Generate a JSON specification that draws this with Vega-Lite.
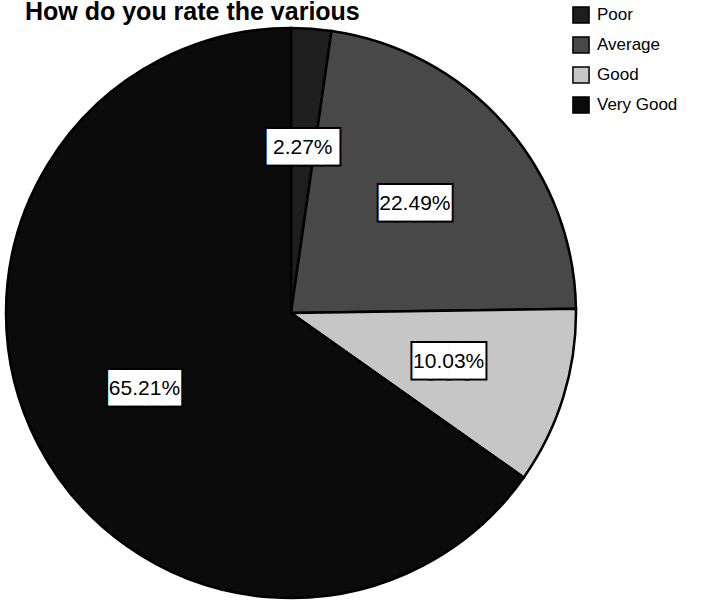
{
  "$schema": "https://vega.github.io/schema/vega-lite/v6.json",
  "width": 582,
  "height": 570,
  "autosize": {"type": "pad"},
  "padding": 0,
  "background": "white",
  "title": {
    "text": "How do you rate the various",
    "anchor": "start",
    "frame": "group",
    "font": "Liberation Sans",
    "fontSize": 25,
    "fontWeight": "bold",
    "color": "black",
    "offset": -19,
    "dx": 25
  },
  "data": {
    "values": [
      {"category": "Poor", "value": 2.27, "label": "2.27%", "order": 1},
      {"category": "Average", "value": 22.49, "label": "22.49%", "order": 2},
      {"category": "Good", "value": 10.03, "label": "10.03%", "order": 3},
      {"category": "Very Good", "value": 65.21, "label": "65.21%", "order": 4}
    ]
  },
  "encoding": {
    "theta": {"field": "value", "type": "quantitative", "stack": true},
    "order": {"field": "order", "type": "quantitative"}
  },
  "layer": [
    {
      "mark": {"type": "arc", "outerRadius": 285, "stroke": "black", "strokeWidth": 2.5},
      "encoding": {
        "color": {
          "field": "category",
          "type": "nominal",
          "scale": {
            "domain": ["Poor", "Average", "Good", "Very Good"],
            "range": ["#1e1e1e", "#484848", "#c6c6c6", "#0b0b0b"]
          },
          "legend": {
            "title": null,
            "orient": "none",
            "legendX": 572,
            "legendY": -22,
            "padding": 0,
            "symbolType": "square",
            "symbolSize": 260,
            "symbolStrokeColor": "black",
            "symbolStrokeWidth": 1.5,
            "labelFont": "Liberation Sans",
            "labelFontSize": 17,
            "labelColor": "black",
            "labelOffset": 7,
            "rowPadding": 6
          }
        }
      }
    },
    {
      "mark": {"type": "text", "radius": 165, "text": "████", "font": "DejaVu Sans Mono", "fontSize": 30, "fill": "black", "stroke": "black", "strokeWidth": 4, "baseline": "middle", "align": "center"},
      "encoding": {"detail": {"field": "category", "type": "nominal"}}
    },
    {
      "mark": {"type": "text", "radius": 165, "text": "████", "font": "DejaVu Sans Mono", "fontSize": 30, "fill": "white", "baseline": "middle", "align": "center"},
      "encoding": {"detail": {"field": "category", "type": "nominal"}}
    },
    {
      "mark": {"type": "text", "radius": 165, "font": "Liberation Sans", "fontSize": 21, "fill": "black", "baseline": "middle", "align": "center"},
      "encoding": {
        "text": {"field": "label", "type": "nominal"},
        "detail": {"field": "category", "type": "nominal"}
      }
    }
  ]
}
